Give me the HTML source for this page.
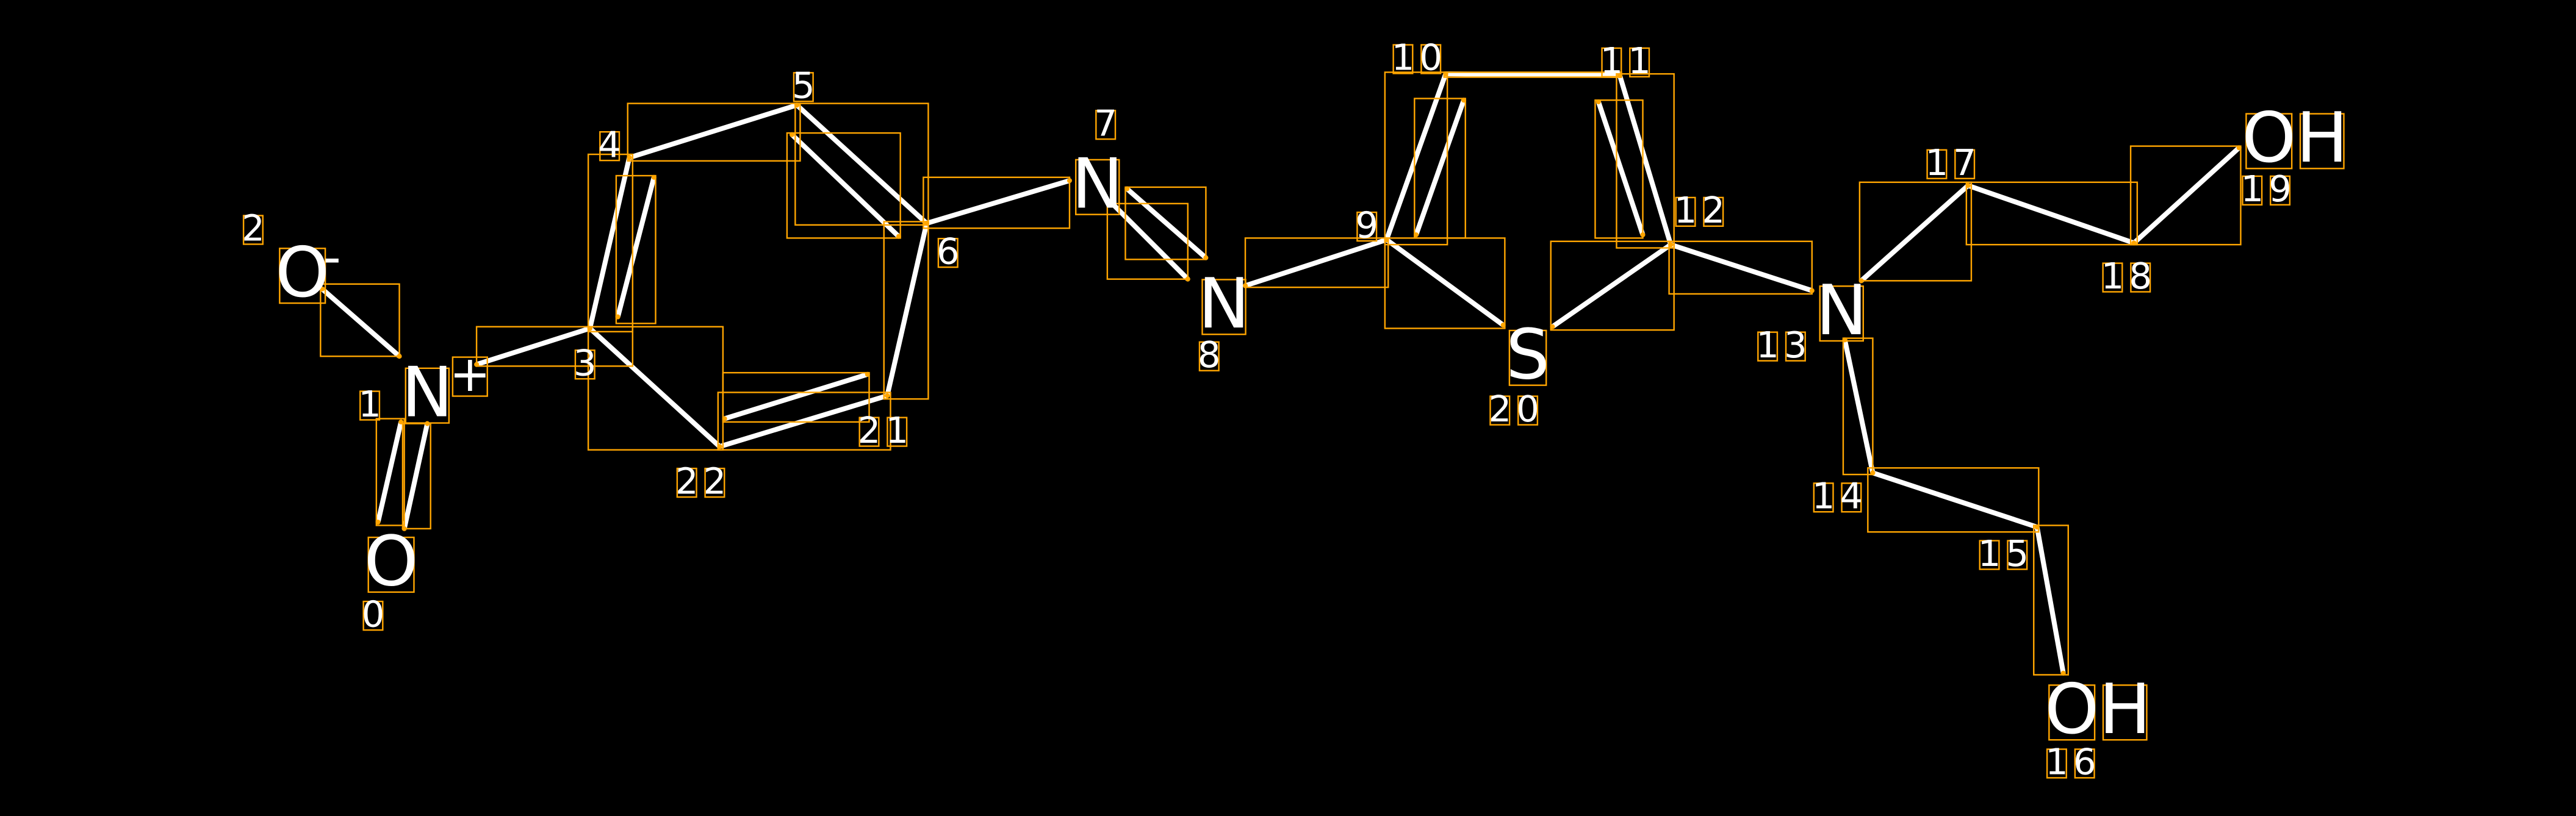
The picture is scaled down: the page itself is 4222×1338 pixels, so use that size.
<!DOCTYPE html>
<html><head><meta charset="utf-8"><style>
html,body{margin:0;padding:0;background:#000;}
svg{display:block;}
text{font-family:"DejaVu Sans","Liberation Sans",sans-serif;fill:#fff;}
</style></head><body>
<svg id="s" width="4222" height="1338" viewBox="0 0 1568 497" xmlns="http://www.w3.org/2000/svg">
<rect x="0" y="0" width="1568" height="497" fill="#000"/>
<g id="bonds" stroke="#fff" stroke-width="3" stroke-linecap="butt"></g>
<g id="boxes" fill="none" stroke="#FFA500" stroke-width="0.9"></g>
<g id="labels"></g>
</svg>
<script>
var NS="http://www.w3.org/2000/svg";
var bonds=[
[196,176,243,217, 195,173,243,217],
[290,222,359,200, 290,199,385,223],
[230,318,244,257, 229,255,246,320],
[246,322,260,258, 245,258,262,322],
[359,200,383,96, 358,94,385,202],
[376,193,398,108, 375,107,399,197],
[383,96,485,64, 382,63,487,98],
[485,64,564,136, 484,63,565,137],
[482,82,547,144, 479,81,548,145],
[564,136,540,241, 538,135,565,243],
[540,241,438,272, 437,239,542,274],
[441,255,528,228, 440,227,529,257],
[438,272,359,200, 358,199,440,274],
[564,136,651,110, 562,108,651,139],
[678,125,723,170, 674,124,723,170],
[686,115,734,157, 685,114,734,158],
[758,174,844,146, 758,145,845,175],
[844,146,880,45, 843,44,881,149],
[862,143,891,61, 861,60,892,145],
[880,45,986,46, 879,44,987,47],
[986,46,1017,149, 984,45,1019,151],
[973,62,1000,143, 971,61,1000,145],
[844,146,915,198, 843,145,916,200],
[1017,149,945,199, 944,147,1019,201],
[1017,149,1103,177, 1016,147,1103,179],
[1123,207,1140,288, 1122,206,1140,289],
[1140,288,1240,321, 1137,285,1241,324],
[1240,321,1256,410, 1238,320,1259,411],
[1133,171,1198,113, 1132,111,1200,171],
[1198,113,1299,148, 1197,111,1301,149],
[1299,148,1363,90, 1297,89,1364,149]
];
var bg=document.getElementById('bonds'),bx=document.getElementById('boxes'),lg=document.getElementById('labels');
function el(t,a,p){var e=document.createElementNS(NS,t);for(var k in a)e.setAttribute(k,a[k]);p.appendChild(e);return e;}
bonds.forEach(function(b){
 el('line',{x1:b[0],y1:b[1],x2:b[2],y2:b[3]},bg);
 el('rect',{x:b[4],y:b[5],width:b[6]-b[4],height:b[7]-b[5]},bx);
 el('circle',{cx:b[0],cy:b[1],r:1.5,fill:'#FFA500',stroke:'none'},bx);
 el('circle',{cx:b[2],cy:b[3],r:1.5,fill:'#FFA500',stroke:'none'},bx);
});
var labs=[
['O',184,166,42],['N',260,239,42],['+',286,228,30],['-',202,157,30,1],['O',238,342,42],
['N',668,112,42],['N',745,185,42],['S',930,216,42],['N',1121,189,42],
['OH',1277,432,42],['OH',1397,84,42],
['2',154,139,22],['1',225,246,22],['0',227,374,22],['3',356,221,22],['4',371,88,22],
['5',489,52,22],['6',577,153,22],['21',539,262,22],['22',428,293,22],['7',673,75,22],
['8',736,216,22],['9',832,137,22],['10',864,35,22],['11',991,37,22],['12',1036,128,22],
['20',923,249,22],['13',1086,210,22],['14',1120,302,22],['15',1221,337,22],['16',1262,464,22],
['17',1189,99,22],['18',1296,168,22],['19',1381,115,22]
];
labs.forEach(function(l){
 var a={x:l[1],y:l[2],'font-size':l[3],'text-anchor':'middle','dominant-baseline':'central'};
 if(l[3]==22 && l[0].length>1) a['letter-spacing']=3;
 var t=el('text',a,lg);
 t.textContent=l[0];
 if(l[4]) return;
 try{
  for(var i=0;i<l[0].length;i++){
   var e=t.getExtentOfChar(i);
   var padY=e.height*0.2;
   var w=e.width; if(l[3]==22 && l[0].length>1) w-=3;
   el('rect',{x:e.x+w*0.08,y:e.y+padY,width:w*0.84,height:e.height-padY*1.6},bx);
  }
 }catch(err){}
});
</script>
</body></html>
